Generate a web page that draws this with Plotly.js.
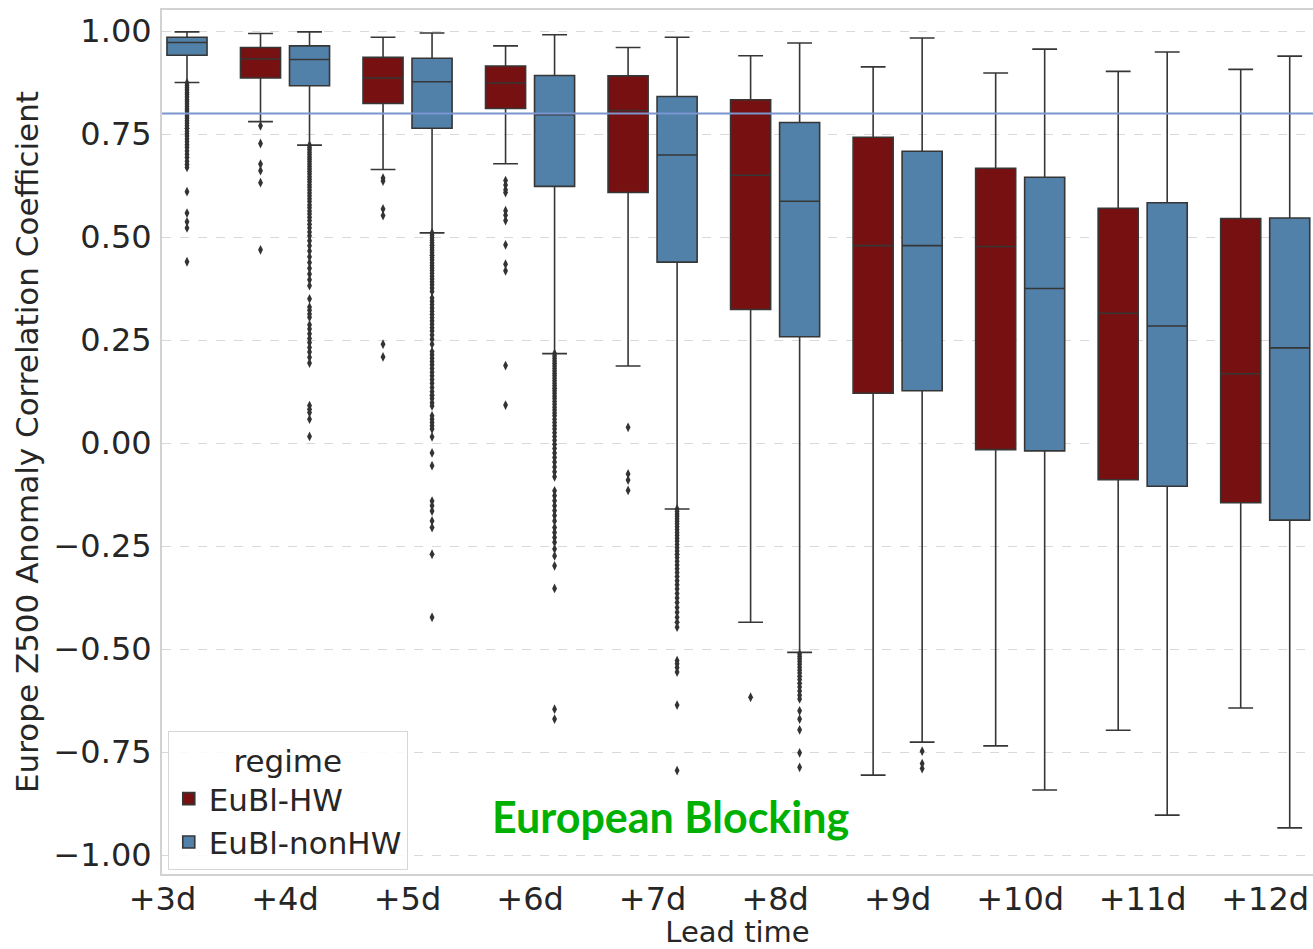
<!DOCTYPE html>
<html>
<head>
<meta charset="utf-8">
<script src="https://cdn.plot.ly/plotly-3.0.1.min.js"></script>
<style>
  html, body { margin: 0; padding: 0; background: #ffffff; }
  #chart { width: 1313px; height: 949px; }
</style>
</head>
<body>
<div id="chart"></div>
<script>
// Lead times on the x axis
const categories = ['+3d', '+4d', '+5d', '+6d', '+7d', '+8d', '+9d', '+10d', '+11d', '+12d'];

// EuBl-HW box statistics (null where no box is shown)
const hwUpper  = [null, 0.994, 0.985, 0.964, 0.960, 0.940, 0.913, 0.898, 0.902, 0.907];
const hwQ3     = [null, 0.960, 0.936, 0.915, 0.891, 0.833, 0.742, 0.667, 0.570, 0.545];
const hwMedian = [null, 0.932, 0.886, 0.874, 0.807, 0.650, 0.479, 0.477, 0.315, 0.168];
const hwQ1     = [null, 0.886, 0.824, 0.812, 0.608, 0.324, 0.121, -0.016, -0.089, -0.145];
const hwLower  = [null, 0.780, 0.664, 0.678, 0.187, -0.435, -0.806, -0.735, -0.697, -0.643];

// EuBl-nonHW box statistics
const nhUpper  = [0.998, 0.998, 0.995, 0.991, 0.985, 0.971, 0.983, 0.956, 0.949, 0.939];
const nhQ3     = [0.985, 0.964, 0.934, 0.892, 0.841, 0.778, 0.708, 0.645, 0.583, 0.546];
const nhMedian = [0.972, 0.931, 0.877, 0.797, 0.699, 0.587, 0.479, 0.375, 0.284, 0.231];
const nhQ1     = [0.941, 0.867, 0.764, 0.623, 0.439, 0.258, 0.127, -0.019, -0.105, -0.187];
const nhLower  = [0.875, 0.723, 0.510, 0.217, -0.160, -0.508, -0.726, -0.842, -0.903, -0.934];

// Outlying forecasts per lead time
const hwOutliers = [
  [],
  [0.770, 0.727, 0.677, 0.661, 0.632, 0.469],
  [0.643, 0.636, 0.568, 0.552, 0.240, 0.209],
  [0.637, 0.626, 0.615, 0.608, 0.564, 0.553, 0.540, 0.481, 0.434, 0.418, 0.188, 0.092],
  [0.038, -0.075, -0.090, -0.115],
  [-0.617],
  [], [], [], []
];
const nhOutliers = [
  [0.874, 0.868, 0.862, 0.857, 0.851, 0.846, 0.840, 0.834, 0.829, 0.823, 0.817, 0.811, 0.806, 0.800,
   0.794, 0.788, 0.782, 0.776, 0.770, 0.764, 0.757, 0.751, 0.745, 0.738, 0.731, 0.724, 0.717, 0.709,
   0.701, 0.693, 0.684, 0.676, 0.669, 0.610, 0.558, 0.537, 0.522, 0.440],
  [0.723, 0.717, 0.712, 0.706, 0.700, 0.694, 0.689, 0.683, 0.677, 0.671, 0.665, 0.659, 0.653, 0.646,
   0.640, 0.634, 0.627, 0.621, 0.614, 0.607, 0.600, 0.593, 0.586, 0.578, 0.571, 0.563, 0.556, 0.548,
   0.540, 0.531, 0.522, 0.512, 0.503, 0.491, 0.479, 0.466, 0.452, 0.438, 0.424, 0.410, 0.396, 0.382,
   0.350, 0.330, 0.322, 0.313, 0.305, 0.287, 0.277, 0.265, 0.254, 0.244, 0.232, 0.221, 0.208, 0.194,
   0.091, 0.082, 0.074, 0.058, 0.016],
  [0.510, 0.504, 0.498, 0.492, 0.486, 0.480, 0.474, 0.468, 0.462, 0.456, 0.450, 0.444, 0.437, 0.431,
   0.425, 0.419, 0.412, 0.405, 0.398, 0.391, 0.384, 0.376, 0.368, 0.352, 0.344, 0.336, 0.328, 0.320,
   0.312, 0.304, 0.296, 0.288, 0.280, 0.272, 0.262, 0.252, 0.240, 0.222, 0.214, 0.206, 0.198, 0.190,
   0.181, 0.172, 0.163, 0.154, 0.145, 0.135, 0.125, 0.116, 0.108, 0.098, 0.090, 0.066, 0.058, 0.050,
   0.042, 0.034, 0.015, -0.024, -0.055, -0.141, -0.152, -0.165, -0.189, -0.205, -0.270, -0.423],
  [0.217, 0.211, 0.205, 0.199, 0.193, 0.187, 0.181, 0.175, 0.169, 0.163, 0.157, 0.151, 0.145, 0.139,
   0.133, 0.127, 0.121, 0.114, 0.108, 0.101, 0.094, 0.087, 0.080, 0.073, 0.066, 0.058, 0.050, 0.042,
   0.034, 0.025, 0.016, 0.007, -0.003, -0.013, -0.024, -0.035, -0.046, -0.058, -0.070, -0.082,
   -0.116, -0.128, -0.140, -0.152, -0.164, -0.176, -0.189, -0.205, -0.217, -0.229, -0.241, -0.257,
   -0.274, -0.298, -0.353, -0.646, -0.670],
  [-0.160, -0.166, -0.172, -0.178, -0.184, -0.190, -0.196, -0.203, -0.210, -0.217, -0.224, -0.231,
   -0.238, -0.246, -0.254, -0.262, -0.270, -0.278, -0.287, -0.296, -0.305, -0.314, -0.324, -0.334,
   -0.344, -0.354, -0.365, -0.376, -0.387, -0.399, -0.411, -0.423, -0.435, -0.447, -0.528, -0.536,
   -0.545, -0.556, -0.636, -0.795],
  [-0.512, -0.518, -0.524, -0.530, -0.537, -0.544, -0.551, -0.558, -0.566, -0.574, -0.583, -0.592,
   -0.602, -0.612, -0.621, -0.650, -0.670, -0.696, -0.752, -0.787],
  [-0.748, -0.778, -0.790],
  [], [], []
];

const regimes = [
  { name: 'EuBl-HW', color: '#771111', offset: -0.2,
    upper: hwUpper, q3: hwQ3, median: hwMedian, q1: hwQ1, lower: hwLower, outliers: hwOutliers },
  { name: 'EuBl-nonHW', color: '#5181a9', offset: 0.2,
    upper: nhUpper, q3: nhQ3, median: nhMedian, q1: nhQ1, lower: nhLower, outliers: nhOutliers }
];

const edgeColor = '#363636';
const traces = [];

regimes.forEach(r => {
  const keep = categories.map((_, i) => i).filter(i => r.median[i] !== null);
  traces.push({
    type: 'box',
    name: r.name,
    x: keep.map(i => i + r.offset),
    q1: keep.map(i => r.q1[i]),
    median: keep.map(i => r.median[i]),
    q3: keep.map(i => r.q3[i]),
    lowerfence: keep.map(i => r.lower[i]),
    upperfence: keep.map(i => r.upper[i]),
    width: 0.327,
    whiskerwidth: 0.62,
    boxpoints: false,
    fillcolor: r.color,
    line: { color: edgeColor, width: 1.6 },
    hoverinfo: 'skip'
  });
});

regimes.forEach(r => {
  const xs = [], ys = [];
  r.outliers.forEach((vals, i) => {
    vals.forEach(v => { xs.push(i + r.offset); ys.push(v); });
  });
  traces.push({
    type: 'scatter',
    mode: 'markers',
    x: xs, y: ys,
    showlegend: false,
    hoverinfo: 'skip',
    marker: { symbol: 'diamond-tall', size: 7, color: '#333333', line: { width: 0 } }
  });
});

const layout = {
  width: 1313,
  height: 949,
  margin: { l: 162, r: 0, t: 10, b: 75 },
  paper_bgcolor: '#ffffff',
  plot_bgcolor: '#ffffff',
  font: { family: 'DejaVu Sans', color: '#262626' },
  showlegend: true,
  xaxis: {
    range: [-0.004, 9.39],
    tickvals: categories.map((_, i) => i),
    ticktext: categories,
    tickfont: { size: 32, color: '#262626' },
    ticks: '',
    ticklabelstandoff: -4,
    showgrid: false,
    zeroline: false,
    showline: true,
    mirror: true,
    linecolor: '#d2d2d2',
    linewidth: 2,
    title: { text: 'Lead time', font: { size: 29, color: '#262626' }, standoff: 18 }
  },
  yaxis: {
    range: [-1.046, 1.051],
    tick0: 0,
    dtick: 0.25,
    tickformat: '.2f',
    tickfont: { size: 32, color: '#262626' },
    ticks: '',
    ticklabelstandoff: 2,
    showgrid: true,
    gridcolor: '#d9d9d9',
    gridwidth: 1,
    griddash: 'dash',
    zeroline: false,
    showline: true,
    linecolor: '#d2d2d2',
    linewidth: 2,
    title: { text: 'Europe Z500 Anomaly Correlation Coefficient', font: { size: 31, color: '#262626' }, standoff: 6 }
  },
  legend: {
    x: 0.005, y: 0.005,
    xanchor: 'left', yanchor: 'bottom',
    bgcolor: 'rgba(255,255,255,0.85)',
    bordercolor: '#d6d6d6',
    borderwidth: 1,
    font: { size: 31, color: '#262626' },
    title: { text: 'regime', side: 'top center', font: { size: 31, color: '#262626' } },
    tracegroupgap: 0,
    itemwidth: 30
  },
  shapes: [{
    type: 'line', xref: 'paper', x0: 0, x1: 1, yref: 'y', y0: 0.8, y1: 0.8,
    line: { color: '#7b96cf', width: 2 }, layer: 'above'
  }],
  annotations: [{
    text: 'European Blocking',
    xref: 'paper', yref: 'paper',
    x: 0.4422, y: 0.067,
    xanchor: 'center', yanchor: 'middle',
    showarrow: false,
    font: { family: 'Lato', size: 43, weight: 'bold', color: '#00b000' }
  }]
};

Plotly.newPlot('chart', traces, layout, { staticPlot: true });
</script>
</body>
</html>
